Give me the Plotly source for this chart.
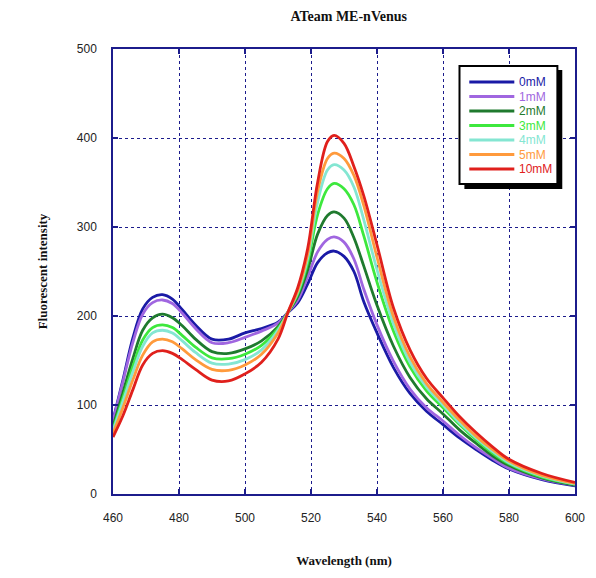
import plotly.graph_objects as go

wavelength = [460, 463, 466, 469, 472, 475, 478, 481, 485, 490, 495, 500, 505, 510, 513,
              516, 519, 522, 525, 527, 530, 533, 536, 540, 545, 550, 555, 560, 565, 570,
              575, 580, 590, 600]

int_0mM = [83, 128, 175, 208, 221, 224, 219, 207, 190, 174, 174, 181, 186, 193, 204,
           215, 236, 260, 271, 273, 267, 250, 216, 181, 142, 113, 93, 78, 63, 50,
           38, 28, 16, 9]
int_1mM = [82, 126, 170, 202, 215, 218, 214, 203, 186, 170, 170, 176, 183, 192, 204,
           218, 244, 272, 286, 289, 283, 264, 230, 190, 149, 118, 97, 82, 66, 52,
           40, 29, 17, 10]
int_2mM = [76, 114, 152, 184, 198, 202, 198, 189, 174, 160, 158, 163, 172, 188, 204,
           222, 252, 292, 313, 317, 310, 288, 256, 212, 166, 131, 107, 90, 72, 57,
           43, 32, 18, 10]
int_3mM = [73, 108, 143, 173, 187, 190, 187, 178, 165, 153, 152, 157, 167, 186, 204,
           225, 260, 314, 343, 349, 343, 325, 290, 238, 183, 143, 116, 97, 78, 61,
           46, 34, 19, 11]
int_4mM = [71, 104, 137, 166, 181, 184, 181, 172, 159, 147, 146, 151, 162, 184, 204,
           227, 265, 328, 364, 370, 364, 345, 308, 252, 191, 148, 120, 100, 80, 63,
           48, 35, 20, 11]
int_5mM = [68, 97, 128, 156, 171, 174, 171, 163, 151, 140, 139, 145, 157, 181, 204,
           229, 270, 340, 377, 383, 377, 358, 324, 266, 199, 154, 124, 103, 83, 65,
           50, 37, 21, 12]
int_10mM = [64, 88, 117, 145, 158, 161, 158, 151, 140, 128, 127, 135, 148, 174, 204,
            232, 276, 350, 396, 403, 394, 368, 335, 280, 209, 162, 130, 108, 87, 69,
            53, 39, 23, 13]

series_names = ["0mM", "1mM", "2mM", "3mM", "4mM", "5mM", "10mM"]
series_values = [int_0mM, int_1mM, int_2mM, int_3mM, int_4mM, int_5mM, int_10mM]
series_colors = ["#1a1aa6", "#a066e0", "#1f7a2e", "#3de83d", "#84e6d2", "#ff9a3c", "#e0201c"]

x_ticks = [460, 480, 500, 520, 540, 560, 580, 600]
y_ticks = [0, 100, 200, 300, 400, 500]

NAVY = "#1c1c8c"
SANS = "Liberation Sans, Arial, sans-serif"
TICKFONT = dict(family=SANS, size=12, color="#222222")
SERIF = "Liberation Serif, Times New Roman, serif"

# plot area in pixels: left 113, width 472, bottom 494, height 445
PL, PW, PB, PH = 113, 472, 494, 445


def px(x):
    return (x - PL) / PW


def py(y):
    return (PB - y) / PH


fig = go.Figure()
for name, vals, col in zip(series_names, series_values, series_colors):
    fig.add_trace(go.Scatter(
        x=wavelength, y=vals, mode="lines", line_shape="spline",
        line=dict(color=col, width=2.8), name=name, showlegend=False,
    ))

# legend box with drop shadow
fig.add_shape(type="rect", xref="paper", yref="paper",
              x0=px(472), x1=px(572), y0=py(189), y1=py(70),
              fillcolor="black", line=dict(width=0), layer="above")
fig.add_shape(type="rect", xref="paper", yref="paper",
              x0=px(467), x1=px(567), y0=py(184), y1=py(66),
              fillcolor="white", line=dict(color="black", width=2), layer="above")
for i, (name, col) in enumerate(zip(series_names, series_colors)):
    yy = 82 + i * 14.5
    fig.add_shape(type="line", xref="paper", yref="paper",
                  x0=px(477), x1=px(523), y0=py(yy), y1=py(yy),
                  line=dict(color=col, width=2.8), layer="above")
    fig.add_annotation(xref="paper", yref="paper", x=px(526), y=py(yy),
                       xanchor="left", yanchor="middle", showarrow=False,
                       text=name, font=dict(family=SANS, size=12, color=col))

fig.update_layout(
    width=596, height=578,
    margin=dict(l=PL, r=596 - PL - PW, t=PB - PH, b=578 - PB),
    paper_bgcolor="white", plot_bgcolor="white",
    title=dict(text="<b>ATeam ME-nVenus</b>", x=0.585, xanchor="center",
               y=0.972, yanchor="middle",
               font=dict(family=SERIF, size=14, color="#111111")),
    showlegend=False,
    xaxis=dict(range=[460, 600], tickvals=x_ticks, ticktext=[str(v) for v in x_ticks],
               showgrid=True, gridcolor=NAVY, griddash="dot", gridwidth=1,
               showline=True, linecolor=NAVY, linewidth=1.5, mirror="ticks",
               ticks="inside", ticklen=5, tickcolor=NAVY, tickwidth=1.5,
               zeroline=False, tickfont=TICKFONT, ticklabelstandoff=12,
               title=dict(text="<b>Wavelength (nm)</b>", standoff=32,
                          font=dict(family=SERIF, size=13, color="#111111"))),
    yaxis=dict(range=[0, 500], tickvals=y_ticks, ticktext=[str(v) for v in y_ticks],
               showgrid=True, gridcolor=NAVY, griddash="dot", gridwidth=1,
               showline=True, linecolor=NAVY, linewidth=1.5, mirror="ticks",
               ticks="inside", ticklen=5, tickcolor=NAVY, tickwidth=1.5,
               zeroline=False, tickfont=TICKFONT, ticklabelstandoff=12,
               title=dict(text="<b>Fluorescent intensity</b>", standoff=26,
                          font=dict(family=SERIF, size=13, color="#111111"))),
)

fig.write_html("out.html")
